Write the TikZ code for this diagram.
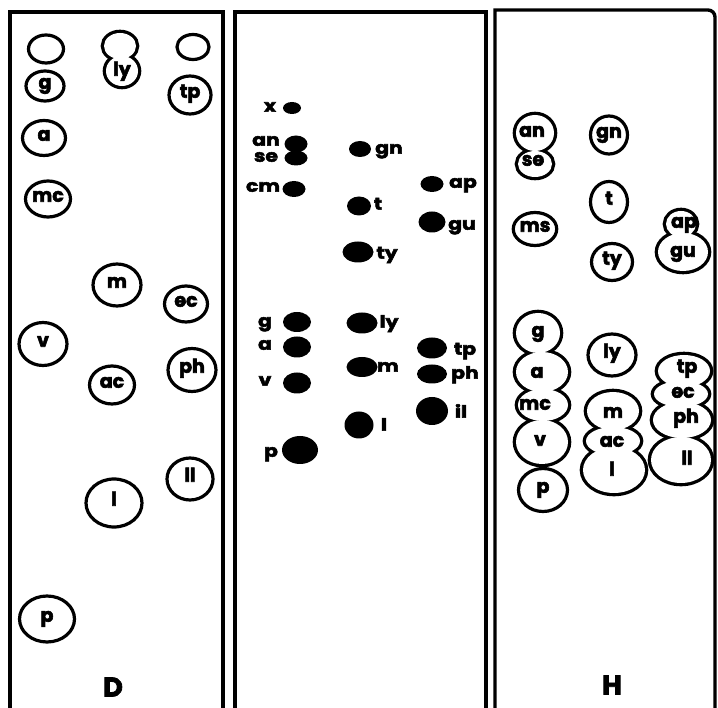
\documentclass[tikz,border=0pt]{standalone}
\usepackage{fontspec}
\setmainfont{Poppins}[BoldFeatures={FakeBold=3}]
\newfontfamily\widefont{Poppins}[FakeStretch=1.2,BoldFeatures={FakeBold=3}]
\usetikzlibrary{positioning,shapes.geometric}
\newcommand\spotfont{\fontsize{19}{19}\selectfont\bfseries}
\newcommand\tagfont{\widefont\fontsize{17}{17}\selectfont\bfseries}
\newcommand\sidefont{\fontsize{27}{27}\selectfont\bfseries}
\tikzset{
  plate/.style  = {line width=3.4pt},
  span/.style 2 args = {minimum width=#1pt, minimum height=#2pt},
  ring/.style   = {ellipse, draw, line width=3.2pt, inner sep=0pt,
                   font=\spotfont, text height=1.5ex, text depth=0.5ex},
  blot/.style   = {ellipse, fill=black, inner sep=0pt},
  lobe/.style   = {line width=6.6pt},
  word/.style   = {font=\spotfont, inner sep=0pt, text height=1.5ex, text depth=0.5ex},
  tag/.style    = {font=\tagfont, inner sep=0pt, text height=1.5ex, text depth=0.5ex},
  side/.style   = {font=\sidefont, inner sep=0pt},
}

\begin{document}
\begin{tikzpicture}[x=1pt,y=-1pt]
  \useasboundingbox (0,0) rectangle (718,708);
  % the three plates
  \draw[plate] (10,708) -- (10,12) -- (223,12) -- (223,708);
  \draw[plate] (235,708) -- (235,12) -- (486,12) -- (486,708);
  \draw[plate] (495,708) -- (495,10) -- (708,10) to[out=0,in=90] (715,17) -- (715,708);

  % plate D: open rings
  \node[ring,span={35}{28}] (d0a) at (46,49) {};
  \node[ring,span={38}{30}] (dg)  at (45,86) {g};
  \node[ring,span={43}{35}] (da)  at (44,138) {a};
  \node[ring,span={45}{36}] (dmc) at (48,199) {mc};
  \node[ring,span={32}{25}] (d0b) at (193,47) {};
  \node[ring,span={42}{38}] (dtp) at (190,95) {tp};
  \node[ring,span={48}{42}] (dm)  at (117,285) {m};
  \node[ring,span={43}{36}] (dec) at (186,304) {ec};
  \node[ring,span={48}{43}] (dv)  at (43,344) {v};
  \node[ring,span={48}{43}] (dph) at (192,370) {ph};
  \node[ring,span={45}{38}] (dac) at (112,385) {ac};
  \node[ring,span={46}{42}] (dll) at (190,479) {ll};
  \node[ring,span={56}{48}] (dl)  at (114,503) {l};
  \node[ring,span={55}{46}] (dp)  at (47,619) {p};
  % ly with its twin above
  \foreach \cx/\cy/\rx/\ry in {120/46/16/13, 122/71/16/15}
    \draw[lobe] (\cx,\cy) ellipse [x radius=\rx pt, y radius=\ry pt];
  \foreach \cx/\cy/\rx/\ry in {120/46/16/13, 122/71/16/15}
    \fill[white] (\cx,\cy) ellipse [x radius=\rx pt, y radius=\ry pt];
  \node[word] (dly) at (122,73) {ly};
  \node[side] (dname) at (113,687) {D};

  % middle plate: solid spots
  \node[blot,span={18}{12}] (mx)  at (292,108) {};
  \node[blot,span={23}{17}] (man) at (296,144) {};
  \node[blot,span={23}{15}] (mse) at (296,158) {};
  \node[blot,span={23}{16}] (mcm) at (294,189) {};
  \node[blot,span={22}{16}] (mgn) at (360,149) {};
  \node[blot,span={24}{19}] (mt)  at (359,206) {};
  \node[blot,span={31}{21}] (mty) at (358,252) {};
  \node[blot,span={23}{16}] (map) at (432,184) {};
  \node[blot,span={27}{21}] (mgu) at (432,222) {};
  \node[blot,span={28}{20}] (mg)  at (297,322) {};
  \node[blot,span={28}{21}] (ma)  at (297,347) {};
  \node[blot,span={28}{21}] (mv)  at (297,383) {};
  \node[blot,span={36}{28}] (mp)  at (300,450) {};
  \node[blot,span={31}{21}] (mly) at (362,323) {};
  \node[blot,span={31}{20}] (mm)  at (362,367) {};
  \node[blot,span={29}{27}] (ml)  at (359,425) {};
  \node[blot,span={30}{21}] (mtp) at (432,348) {};
  \node[blot,span={30}{19}] (mph) at (432,374) {};
  \node[blot,span={32}{28}] (mil) at (432,411) {};
  \node[tag] (tx)  at (270,109) {x};
  \node[tag] (tan) at (266,143) {an};
  \node[tag] (tse) at (266,159) {se};
  \node[tag] (tcm) at (263,189) {cm};
  \node[tag] (tgn) at (389,151) {gn};
  \node[tag] (tt)  at (378,207) {t};
  \node[tag] (tty) at (387,256) {ty};
  \node[tag] (tap) at (463,185) {ap};
  \node[tag] (tgu) at (462,227) {gu};
  \node[tag] (tg)  at (265,324) {g};
  \node[tag] (ta)  at (265,347) {a};
  \node[tag] (tv)  at (265,383) {v};
  \node[tag] (tp)  at (271,454) {p};
  \node[tag] (tly) at (389,325) {ly};
  \node[tag] (tm)  at (388,369) {m};
  \node[tag] (tl)  at (384,428) {l};
  \node[tag] (ttp) at (465,352) {tp};
  \node[tag] (tph) at (465,376) {ph};
  \node[tag] (til) at (461,415) {il};

  % plate H: single rings
  \node[ring,span={37}{38}] (hgn) at (609,135) {gn};
  \node[ring,span={37}{41}] (ht)  at (609,202) {t};
  \node[ring,span={39}{33}] (hms) at (535,229) {ms};
  \node[ring,span={41}{37}] (hty) at (612,262) {ty};
  \node[ring,span={48}{42}] (hly) at (612,355) {ly};
  \node[ring,span={49}{43}] (hp)  at (543,490) {p};
  % plate H: merged rings
  \foreach \cx/\cy/\rx/\ry in {535/133/19/18, 535/164/17/13,
      681/224/15/13, 683/252/25/19,
      538/333/22/20, 542/372/26/20, 543/405/25/16, 542/442/26/22,
      613/411/26/19, 613/441/27/14, 614/470/31/23,
      684/371/26/16, 681/394/27/13, 682/420/29/18, 681/460/30/23}
    \draw[lobe] (\cx,\cy) ellipse [x radius=\rx pt, y radius=\ry pt];
  \foreach \cx/\cy/\rx/\ry in {535/133/19/18, 535/164/17/13,
      681/224/15/13, 683/252/25/19,
      538/333/22/20, 542/372/26/20, 543/405/25/16, 542/442/26/22,
      613/411/26/19, 613/441/27/14, 614/470/31/23,
      684/371/26/16, 681/394/27/13, 682/420/29/18, 681/460/30/23}
    \fill[white] (\cx,\cy) ellipse [x radius=\rx pt, y radius=\ry pt];
  \node[word] (han) at (532,134) {an};
  \node[word] (hse) at (533,163) {se};
  \node[word] (hap) at (684,225) {ap};
  \node[word] (hgu) at (683,254) {gu};
  \node[word] (hg)  at (538,334) {g};
  \node[word] (ha)  at (537,375) {a};
  \node[word] (hmc) at (535,407) {mc};
  \node[word] (hv)  at (540,443) {v};
  \node[word] (hm)  at (613,415) {m};
  \node[word] (hac) at (612,444) {ac};
  \node[word] (hl)  at (612,473) {l};
  \node[word] (htp) at (687,370) {tp};
  \node[word] (hec) at (683,395) {ec};
  \node[word] (hph) at (686,420) {ph};
  \node[word] (hll) at (687,462) {ll};
  \node[side] (hname) at (612,685) {H};
\end{tikzpicture}
\end{document}
